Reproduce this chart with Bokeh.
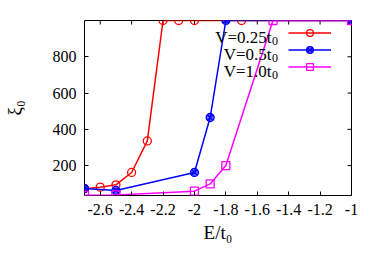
import math
from bokeh.plotting import figure
from bokeh.models import (Range1d, FixedTicker, CustomJSTickFormatter, LinearAxis,
                          Label, Legend, LegendItem)
from bokeh.embed import file_html
from bokeh.resources import INLINE

# ---- data ----
x_v025 = [-2.7, -2.6, -2.5, -2.4, -2.3, -2.2, -2.1, -2.0, -1.7, -1.0]
y_v025 = [72, 81, 94, 162, 336, 1000, 1000, 1000, 1000, 1000]
x_v05 = [-2.7, -2.5, -2.0, -1.9, -1.8, -1.0]
y_v05 = [74, 63, 162, 465, 1000, 1000]
x_v10 = [-2.7, -2.5, -2.0, -1.9, -1.8, -1.5, -1.0]
y_v10 = [36, 38, 59, 99, 200, 1000, 1000]
x_ticks = [-2.6, -2.4, -2.2, -2.0, -1.8, -1.6, -1.4, -1.2, -1.0]
y_ticks = [200, 400, 600, 800]
legend_main = ["V=0.25t", "V=0.5t", "V=1.0t"]
legend_sub = ["0", "0", "0"]
x_label = "E/t₀"
y_label = "ξ₀"

FONT = "Liberation Serif"
RED, BLUE, MAG = "#ff0000", "#0000ff", "#ff00ff"

X0, X1 = -2.7, -1.0
Y0, Y1 = 35, 1000

p = figure(width=373, height=259, output_backend="svg", toolbar_location=None,
           x_range=Range1d(X0, X1), y_range=Range1d(Y0, Y1),
           min_border_left=83, min_border_right=22, min_border_top=20, min_border_bottom=64,
           x_axis_location=None, y_axis_location=None)
p.grid.visible = False
p.outline_line_color = "black"
p.outline_line_width = 1
p.background_fill_color = "white"
p.border_fill_color = "white"

def style_axis(ax, ticks):
    ax.ticker = FixedTicker(ticks=ticks)
    ax.axis_line_color = None
    ax.major_tick_in = 4
    ax.major_tick_out = 0
    ax.major_tick_line_color = "black"
    ax.minor_tick_line_color = None
    ax.major_label_text_font = FONT
    ax.major_label_text_color = "black"
    ax.major_label_text_font_size = "16px"
    ax.major_label_standoff = 8
    ax.formatter = CustomJSTickFormatter(code="return String(Math.round(tick*10)/10)")
    ax.axis_label_text_font = FONT
    ax.axis_label_text_font_style = "normal"
    ax.axis_label_text_color = "black"
    ax.axis_label_text_font_size = "19px"

xb = LinearAxis(axis_label=x_label); style_axis(xb, x_ticks)
xb.axis_label_standoff = 4
p.add_layout(xb, "below")
yl = LinearAxis(axis_label=y_label); style_axis(yl, y_ticks)
yl.axis_label_standoff = 25
p.add_layout(yl, "left")

# mirrored inward ticks on top and right borders (outer half clipped by the frame)
p.scatter(x_ticks, [Y1] * len(x_ticks), marker="dash", angle=math.pi / 2, size=8,
          line_color="black", line_width=1)
p.scatter([X1] * len(y_ticks), y_ticks, marker="dash", size=8,
          line_color="black", line_width=1)

l1 = p.line(x_v025, y_v025, line_color=RED, line_width=1.5)
m1 = p.scatter(x_v025, y_v025, marker="circle", size=8, line_color=RED, fill_color=None, line_width=1.3)
l2 = p.line(x_v05, y_v05, line_color=BLUE, line_width=1.5)
m2 = p.scatter(x_v05, y_v05, marker="circle_x", size=8, line_color=BLUE, fill_color=BLUE,
               fill_alpha=0.6, line_width=1.3)
l3 = p.line(x_v10, y_v10, line_color=MAG, line_width=1.5)
m3 = p.scatter(x_v10, y_v10, marker="square", size=8, line_color=MAG, fill_color=None, line_width=1.3)

leg = Legend(items=[LegendItem(label=" ", renderers=[l1, m1]),
                    LegendItem(label=" ", renderers=[l2, m2]),
                    LegendItem(label=" ", renderers=[l3, m3])],
             location=(204, 120), glyph_width=43, glyph_height=17, label_height=17,
             label_width=0, label_standoff=0, spacing=0, padding=0, margin=0,
             border_line_color=None, background_fill_alpha=0, label_text_font_size="1px")
p.add_layout(leg, "center")

# page -> frame screen coords (frame left 83, bottom 195 on page)
def sx(X): return X - 83
def sy(Y): return 195 - Y

for i, (mt, st) in enumerate(zip(legend_main, legend_sub)):
    yc = 32 + 17 * i
    p.add_layout(Label(x=sx(270), y=sy(yc + 4.5), x_units="screen", y_units="screen", text=mt,
                       text_align="right", text_baseline="alphabetic",
                       text_font=FONT, text_font_size="17px", text_color="black"))
    p.add_layout(Label(x=sx(276.5), y=sy(yc + 8.5), x_units="screen", y_units="screen", text=st,
                       text_align="right", text_baseline="alphabetic",
                       text_font=FONT, text_font_size="12px", text_color="black"))

open("out.html", "w").write(file_html(p, INLINE))
